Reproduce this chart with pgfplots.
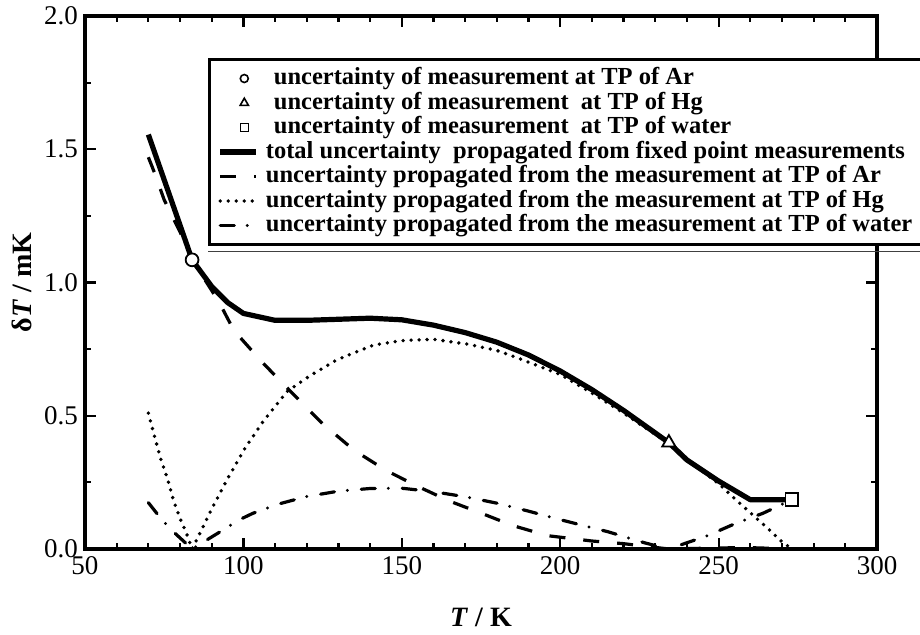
\documentclass[border=0pt]{standalone}
\usepackage{fontspec}
\setmainfont{Liberation Serif}
\usepackage{pgfplots}
\usepackage{pgfplotstable}
\pgfplotsset{compat=1.18}
\pgfplotsset{markleg/.style={legend image code/.code={\path (0pt,0pt) (18pt,0pt); \draw[##1] plot coordinates {(12pt,0pt)};}}}

% total uncertainty propagated from the fixed points
\pgfplotstableread{
T dT
70 1.555
75 1.385
80 1.215
83.8 1.085
90 0.985
95 0.925
100 0.884
110 0.858
120 0.858
130 0.862
140 0.866
150 0.860
160 0.840
170 0.812
180 0.776
190 0.728
200 0.668
210 0.598
220 0.520
234.3 0.399
240 0.334
250 0.255
260 0.185
273.16 0.185
}\total

% from TP of Ar
\pgfplotstableread{
T dT
70 1.47
72 1.41
75 1.31
80 1.19
83.8 1.085
90 0.97
92.6 0.92
97 0.82
100 0.78
106 0.70
115 0.59
125 0.47
135 0.37
145 0.295
155 0.235
165 0.18
176 0.13
185 0.088
196 0.05
210 0.03
220 0.02
227 0.01
234.3 0
250 0.004
260 0.005
273.16 0
}\argon

% from TP of Hg
\pgfplotstableread{
T dT
70 0.51
72 0.42
74 0.335
76 0.265
78 0.18
80 0.115
82 0.06
83.8 0
86.3 0.06
90 0.15
95 0.264
100.5 0.378
106.3 0.48
113.7 0.59
121 0.65
129.5 0.71
141 0.765
150 0.782
160 0.787
171 0.768
180 0.745
187 0.715
200 0.655
210 0.585
220 0.51
234.3 0.395
245 0.29
250 0.245
255 0.19
260 0.136
265 0.083
270 0.027
273.16 0
}\mercury

% from TP of water
\pgfplotstableread{
T dT
70 0.174
73.5 0.121
77.4 0.07
83.8 0
94.5 0.078
98.6 0.109
103 0.134
111.5 0.17
120 0.197
130 0.217
140 0.227
150 0.228
160 0.215
170 0.196
180 0.172
190 0.142
200 0.11
215 0.065
227 0.022
234.3 0
246.5 0.05
255 0.094
264 0.134
273.16 0.185
}\water

\begin{document}
\begin{tikzpicture}
\begin{axis}[
    at={(0pt,0pt)}, anchor=south west,
    scale only axis, width=396pt, height=266.5pt,
    xmin=50, xmax=300, ymin=0, ymax=2,
    xtick={50,100,150,200,250,300},
    ytick={0,0.5,1,1.5,2},
    minor x tick num=4, minor y tick num=1,
    tick align=inside,
    major tick length=5.5pt, minor tick length=3pt,
    every tick/.style={black, line width=1.1pt},
    axis line style={line width=1.7pt},
    /pgf/number format/assume math mode=true,
    tick label style={font=\fontsize{13.5}{15}\selectfont},
    yticklabel style={/pgf/number format/.cd, fixed, fixed zerofill, precision=1},
    label style={font=\bfseries\fontsize{14}{16}\selectfont},
    xlabel={\textit{T} / K},
    ylabel={δ\textit{T} / mK},
    xlabel style={at={(axis description cs:0.5,-0.1276)}, anchor=center},
    ylabel style={at={(axis description cs:-0.0795,0.5)}, anchor=center},
    legend style={name=leg, at={(axis description cs:0.1553,0.922)}, anchor=north west,
        draw=black, line width=1.7pt, fill=white,
        font=\bfseries\fontsize{12.25}{12.25}\selectfont,
        inner xsep=4pt, inner ysep=3.5pt, row sep=0pt, column sep=1.5pt,
        nodes={text height=8.5pt, text depth=2.5pt, inner ysep=0.625pt}},
    legend cell align=left,
    legend image code/.code={\draw[#1] (0pt,0pt) -- (18pt,0pt);},
]
\addlegendimage{only marks, mark=*, mark size=2pt,
    mark options={fill=white, draw=black, line width=0.8pt}, markleg}
\addlegendentry{\hspace{4pt}uncertainty of measurement at TP of Ar}
\addlegendimage{only marks, mark=triangle*, mark size=2.4pt,
    mark options={fill=white, draw=black, line width=0.8pt}, markleg}
\addlegendentry{\hspace{4pt}uncertainty of measurement\ \ at TP of Hg}
\addlegendimage{only marks, mark=square*, mark size=2pt,
    mark options={fill=white, draw=black, line width=0.8pt}, markleg}
\addlegendentry{\hspace{4pt}uncertainty of measurement\ \ at TP of water}

\addplot[black, line width=2.6pt, line join=round, no markers] table[x=T, y=dT] {\total};
\addlegendentry{total uncertainty\ \ propagated from fixed point measurements}
\addplot[black, line width=1.6pt, dash pattern=on 8pt off 9pt, no markers] table[x=T, y=dT] {\argon};
\addlegendentry{uncertainty propagated from the measurement at TP of Ar}
\addplot[black, line width=1.9pt, line cap=round, dash pattern=on 0pt off 4pt, no markers] table[x=T, y=dT] {\mercury};
\addlegendentry{uncertainty propagated from the measurement at TP of Hg}
\addplot[black, line width=1.6pt, line cap=round, dash pattern=on 7pt off 6.5pt on 0pt off 7pt, no markers] table[x=T, y=dT] {\water};
\addlegendentry{uncertainty propagated from the measurement at TP of water}

\addplot[forget plot, only marks, mark=*, mark size=3.2pt,
    mark options={fill=white, draw=black, line width=0.9pt}] coordinates {(83.8,1.085)};
\addplot[forget plot, only marks, mark=triangle*, mark size=3.8pt,
    mark options={fill=white, draw=black, line width=0.9pt}] coordinates {(234.3,0.399)};
\addplot[forget plot, only marks, mark=square*, mark size=3.2pt,
    mark options={fill=white, draw=black, line width=0.9pt}] coordinates {(273.16,0.185)};
\end{axis}
% thin shadow line under the legend frame
\draw[black!75, line width=0.8pt] ([yshift=-2.6pt]leg.south west) -- ([yshift=-2.6pt]leg.south east);
\pgfresetboundingbox
\path[use as bounding box] (-42.5pt,-43pt) rectangle (417.5pt,274.5pt);
\end{tikzpicture}
\end{document}
